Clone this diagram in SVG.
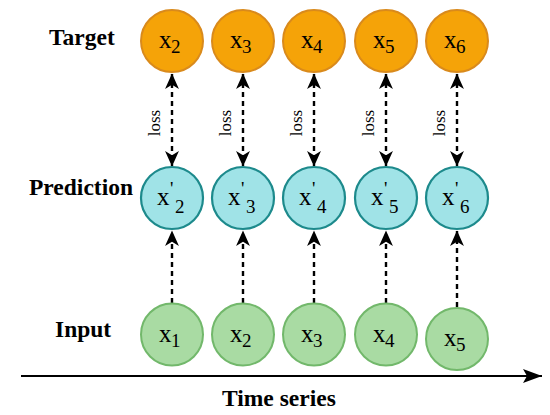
<svg xmlns="http://www.w3.org/2000/svg" width="550" height="415" viewBox="0 0 550 415">
<style>
.lbl{font-family:"Liberation Serif","Times New Roman",Times,serif;font-weight:bold;font-size:23.5px;fill:#000}
.t{font-family:"Liberation Serif","Times New Roman",Times,serif;font-size:25px;fill:#000}
.s{font-family:"Liberation Serif","Times New Roman",Times,serif;font-size:19px;fill:#000}
.loss{font-family:"Liberation Serif","Times New Roman",Times,serif;font-size:17px;fill:#000}
.tg{fill:#F5A308;stroke:#D98A1C;stroke-width:2}
.pr{fill:#A0E3E7;stroke:#1D8A8C;stroke-width:2.2}
.in{fill:#A9DBA3;stroke:#72B86B;stroke-width:2}
.dash{stroke:#000;stroke-width:2.4;stroke-dasharray:5,4;fill:none}
</style>
<defs>
<marker id="ah" markerUnits="userSpaceOnUse" markerWidth="16" markerHeight="16" viewBox="0 0 15 15" refX="14" refY="7.5" orient="auto-start-reverse">
<path d="M0,1 L14.5,7.5 L0,14 L4,7.5 z" fill="#000"/>
</marker>
<marker id="ax" markerUnits="userSpaceOnUse" markerWidth="20" markerHeight="16" viewBox="0 0 20 16" refX="19" refY="8" orient="auto">
<path d="M0,1 L19,8 L0,15 L4,8 z" fill="#000"/>
</marker>
</defs>

<g id="labels">
<text class="lbl" x="49" y="45">Target</text>
<text class="lbl" x="29" y="195">Prediction</text>
<text class="lbl" x="55" y="337">Input</text>
</g>

<g id="connectors">
<line class="dash" x1="172" y1="74" x2="172" y2="166" marker-start="url(#ah)" marker-end="url(#ah)"/>
<line class="dash" x1="243" y1="74" x2="243" y2="166" marker-start="url(#ah)" marker-end="url(#ah)"/>
<line class="dash" x1="314" y1="74" x2="314" y2="166" marker-start="url(#ah)" marker-end="url(#ah)"/>
<line class="dash" x1="386" y1="74" x2="386" y2="166" marker-start="url(#ah)" marker-end="url(#ah)"/>
<line class="dash" x1="457" y1="74" x2="457" y2="166" marker-start="url(#ah)" marker-end="url(#ah)"/>
<line class="dash" x1="172" y1="303" x2="172" y2="231" marker-end="url(#ah)"/>
<line class="dash" x1="243" y1="303" x2="243" y2="231" marker-end="url(#ah)"/>
<line class="dash" x1="314" y1="303" x2="314" y2="231" marker-end="url(#ah)"/>
<line class="dash" x1="386" y1="303" x2="386" y2="231" marker-end="url(#ah)"/>
<line class="dash" x1="457" y1="307" x2="457" y2="231" marker-end="url(#ah)"/>
<text class="loss" transform="translate(160,123) rotate(-90)" text-anchor="middle">loss</text>
<text class="loss" transform="translate(231,123) rotate(-90)" text-anchor="middle">loss</text>
<text class="loss" transform="translate(302,123) rotate(-90)" text-anchor="middle">loss</text>
<text class="loss" transform="translate(374,123) rotate(-90)" text-anchor="middle">loss</text>
<text class="loss" transform="translate(445,123) rotate(-90)" text-anchor="middle">loss</text>
</g>

<g id="target-x2"><circle class="tg" cx="172" cy="41" r="31"/><text class="t" x="159" y="48">x</text><text class="s" x="171" y="53">2</text></g>
<g id="target-x3"><circle class="tg" cx="243" cy="41" r="31"/><text class="t" x="230" y="48">x</text><text class="s" x="242" y="53">3</text></g>
<g id="target-x4"><circle class="tg" cx="314" cy="41" r="31"/><text class="t" x="301" y="48">x</text><text class="s" x="313" y="53">4</text></g>
<g id="target-x5"><circle class="tg" cx="386" cy="41" r="31"/><text class="t" x="373" y="48">x</text><text class="s" x="385" y="53">5</text></g>
<g id="target-x6"><circle class="tg" cx="457" cy="41" r="31"/><text class="t" x="444" y="48">x</text><text class="s" x="456" y="53">6</text></g>

<g id="pred-x2"><circle class="pr" cx="172" cy="198" r="31"/><text class="t" x="157" y="205">x</text><text class="s" x="170" y="195">'</text><text class="s" x="175" y="213">2</text></g>
<g id="pred-x3"><circle class="pr" cx="243" cy="198" r="31"/><text class="t" x="228" y="205">x</text><text class="s" x="241" y="195">'</text><text class="s" x="246" y="213">3</text></g>
<g id="pred-x4"><circle class="pr" cx="314" cy="198" r="31"/><text class="t" x="299" y="205">x</text><text class="s" x="312" y="195">'</text><text class="s" x="317" y="213">4</text></g>
<g id="pred-x5"><circle class="pr" cx="386" cy="198" r="31"/><text class="t" x="371" y="205">x</text><text class="s" x="384" y="195">'</text><text class="s" x="389" y="213">5</text></g>
<g id="pred-x6"><circle class="pr" cx="457" cy="198" r="31"/><text class="t" x="442" y="205">x</text><text class="s" x="455" y="195">'</text><text class="s" x="460" y="213">6</text></g>

<g id="input-x1"><circle class="in" cx="172" cy="334.5" r="31"/><text class="t" x="159" y="342">x</text><text class="s" x="171" y="347">1</text></g>
<g id="input-x2"><circle class="in" cx="243" cy="334.5" r="31"/><text class="t" x="230" y="342">x</text><text class="s" x="242" y="347">2</text></g>
<g id="input-x3"><circle class="in" cx="314" cy="334.5" r="31"/><text class="t" x="301" y="342">x</text><text class="s" x="313" y="347">3</text></g>
<g id="input-x4"><circle class="in" cx="386" cy="334.5" r="31"/><text class="t" x="373" y="342">x</text><text class="s" x="385" y="347">4</text></g>
<g id="input-x5"><circle class="in" cx="457" cy="339" r="31"/><text class="t" x="444" y="346">x</text><text class="s" x="456" y="351">5</text></g>

<g id="axis">
<line x1="21" y1="376" x2="542" y2="376" stroke="#000" stroke-width="2.2" marker-end="url(#ax)"/>
<text class="lbl" x="222" y="406">Time series</text>
</g>
</svg>
